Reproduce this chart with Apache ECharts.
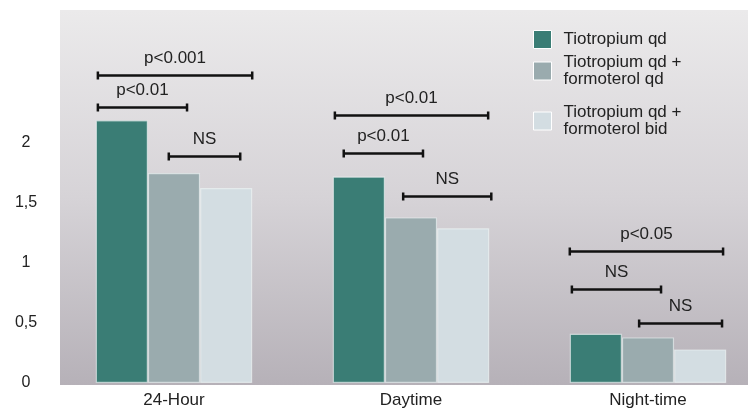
<!DOCTYPE html>
<html>
<head>
<meta charset="utf-8">
<script src="https://cdn.jsdelivr.net/npm/echarts@6/dist/echarts.min.js"></script>
<style>html,body{margin:0;padding:0;background:#fff}#c{width:755px;height:410px}</style>
</head>
<body>
<div id="c"></div>
<script>
var categories = ['24-Hour', 'Daytime', 'Night-time'];
var seriesNames = ['Tiotropium qd', 'Tiotropium qd +\nformoterol qd', 'Tiotropium qd +\nformoterol bid'];
var tioQd = [2.19, 1.72, 0.41];
var tioFormQd = [1.75, 1.38, 0.38];
var tioFormBid = [1.625, 1.29, 0.28];
var yTicks = [0, 0.5, 1, 1.5, 2];
// brackets: [categoryIndex, startOffset, endOffset (in bar widths from group centre), yValue]
var brackets = [
  [0, -1.46, 1.5, 2.57],
  [0, -1.46, 0.25, 2.30],
  [0, -0.1, 1.27, 1.89],
  [1, -1.46, 1.48, 2.23],
  [1, -1.29, 0.23, 1.92],
  [1, -0.15, 1.54, 1.56],
  [2, -1.5, 1.44, 1.10],
  [2, -1.46, 0.25, 0.78],
  [2, -0.17, 1.42, 0.50]
];
var bracketLabels = ['p<0.001', 'p<0.01', 'NS', 'p<0.01', 'p<0.01', 'NS', 'p<0.05', 'NS', 'NS'];

var colors = ['#3a7d75', '#9aabae', '#d3dde2'];
var FONT = "'Liberation Sans', Arial, sans-serif";
var chart = echarts.init(document.getElementById('c'));

function barSeries(name, data, color) {
  return {
    name: name, type: 'bar', data: data, clip: false,
    barGap: '0%', barCategoryGap: '34%',
    itemStyle: { color: color, borderColor: 'rgba(240,246,246,0.6)', borderWidth: 1.2 },
    emphasis: { disabled: true }
  };
}

function legendAt(name, top) {
  return {
    data: [name], left: 528, top: top, orient: 'vertical',
    itemWidth: 18, itemHeight: 18, icon: 'rect',
    itemStyle: { borderColor: '#ffffff', borderWidth: 1 },
    textStyle: { fontFamily: FONT, fontSize: 17, lineHeight: 17, color: '#222', padding: [0, 0, 0, 7] },
    selectedMode: false
  };
}

chart.setOption({
  animation: false,
  color: colors,
  graphic: [{
    type: 'rect', z: -10, silent: true,
    shape: { x: 60, y: 10, width: 688, height: 375 },
    style: {
      fill: new echarts.graphic.LinearGradient(0, 0, 0, 1, [
        { offset: 0, color: '#ebeaeb' },
        { offset: 0.5, color: '#d6d3d7' },
        { offset: 1, color: '#b6b1b8' }
      ])
    }
  }],
  legend: [
    legendAt(seriesNames[0], 25),
    legendAt(seriesNames[1], 49),
    legendAt(seriesNames[2], 99)
  ],
  grid: { left: 174, top: 23, width: 474, bottom: 27, containLabel: false },
  xAxis: {
    type: 'category', data: categories, boundaryGap: false,
    axisLine: { show: false }, axisTick: { show: false }, splitLine: { show: false },
    axisLabel: { fontFamily: FONT, fontSize: 17, color: '#222', margin: 9 }
  },
  yAxis: {
    type: 'value', min: 0, max: 3, interval: 0.5,
    splitLine: { show: false }, axisLine: { show: false }, axisTick: { show: false },
    axisLabel: {
      fontFamily: FONT, fontSize: 16, color: '#222', margin: 148, align: 'center',
      formatter: function (v) { return yTicks.indexOf(v) >= 0 ? String(v).replace('.', ',') : ''; }
    }
  },
  series: [
    barSeries(seriesNames[0], tioQd, colors[0]),
    barSeries(seriesNames[1], tioFormQd, colors[1]),
    barSeries(seriesNames[2], tioFormBid, colors[2]),
    {
      type: 'custom', z: 10, silent: true, clip: false,
      data: brackets,
      encode: { x: 0, y: 3 },
      renderItem: function (params, api) {
        var c = api.coord([api.value(0), api.value(3)]);
        var band = api.size([1, 0])[0];
        var bw = band * 0.66 / 3;
        var x0 = c[0] + api.value(1) * bw;
        var x1 = c[0] + api.value(2) * bw;
        var y = Math.round(c[1]) + 0.5;
        var st = { stroke: '#111', lineWidth: 2.5 };
        return {
          type: 'group',
          children: [
            { type: 'line', shape: { x1: x0, y1: y, x2: x1, y2: y }, style: st },
            { type: 'line', shape: { x1: x0, y1: y - 4, x2: x0, y2: y + 4 }, style: st },
            { type: 'line', shape: { x1: x1, y1: y - 4, x2: x1, y2: y + 4 }, style: st },
            { type: 'text', style: {
                text: bracketLabels[params.dataIndex], x: (x0 + x1) / 2, y: y - 17,
                align: 'center', verticalAlign: 'middle',
                font: '17px ' + FONT, fill: '#222'
            } }
          ]
        };
      }
    }
  ]
});
</script>
</body>
</html>
